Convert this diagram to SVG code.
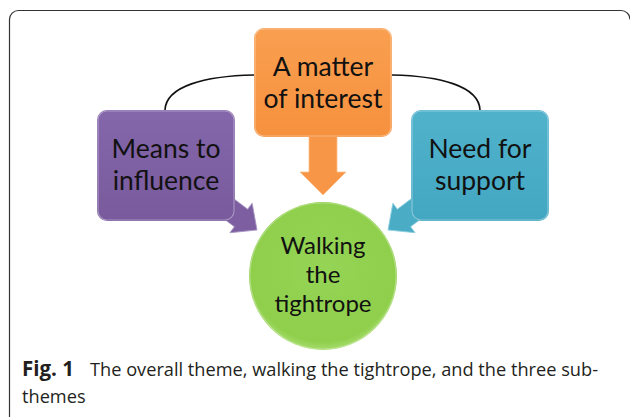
<svg xmlns="http://www.w3.org/2000/svg" width="630" height="417" viewBox="0 0 630 417">
  <defs>
    <style>
      .lbl { font-family: Lato, "Open Sans", "Liberation Sans", sans-serif; fill: #111; text-anchor: middle; }
      .box-t { font-size: 26.5px; }
      .circ-t { font-size: 24px; }
      .cap { font-family: "Open Sans", "Liberation Sans", sans-serif; font-size: 18.2px; fill: #231f20; }
      .link { fill: none; stroke: #111; stroke-width: 1.6; }
      .bevel { fill: none; stroke: #ffffff; stroke-opacity: 0.35; stroke-width: 1.2; }
    </style>
    <linearGradient id="gPurple" x1="0" y1="0" x2="0" y2="1">
      <stop offset="0" stop-color="#8466aa"/>
      <stop offset="1" stop-color="#785a9d"/>
    </linearGradient>
    <linearGradient id="gOrange" x1="0" y1="0" x2="0" y2="1">
      <stop offset="0" stop-color="#f99f50"/>
      <stop offset="1" stop-color="#f6913e"/>
    </linearGradient>
    <linearGradient id="gCyan" x1="0" y1="0" x2="0" y2="1">
      <stop offset="0" stop-color="#50b2cb"/>
      <stop offset="1" stop-color="#44a7c2"/>
    </linearGradient>
    <radialGradient id="gGreen" cx="0.5" cy="0.45" r="0.55">
      <stop offset="0" stop-color="#95d455"/>
      <stop offset="0.9" stop-color="#8fcf4c"/>
      <stop offset="1" stop-color="#a6dc6c"/>
    </radialGradient>
    <!-- block arrow pointing along +x, tip at the origin -->
    <path id="sideArrow" d="M0,0 L-20,-18.5 L-20,-11 L-70,-11 L-70,11 L-20,11 L-20,18.5 Z"/>
  </defs>

  <!-- figure frame, open at the bottom -->
  <path d="M9.5,417 V19.5 A9,9 0 0 1 18.5,10.5 H621 A9,9 0 0 1 630,19.5" fill="none" stroke="#333" stroke-width="1.2"/>

  <g id="connectors">
    <path class="link" d="M165,110 C166,86 205,76 254,75"/>
    <path class="link" d="M392,75 C440,76 479,86 480,110"/>
    <use href="#sideArrow" fill="#7d5fa1" stroke="#a996c4" stroke-width="0.8" transform="translate(257,230) rotate(37)"/>
    <use href="#sideArrow" fill="#4bacc6" stroke="#8fd0e0" stroke-width="0.8" transform="translate(388,230) scale(-1,1) rotate(37)"/>
    <path d="M309,130 H337 V172 H346 L323,195 L300,172 H309 Z" fill="#f79646" stroke="#fbbf8a" stroke-width="0.8"/>
  </g>

  <g id="node-matter">
    <rect x="254" y="28" width="138" height="109" rx="10" fill="url(#gOrange)"/>
    <rect x="255" y="29" width="136" height="107" rx="9" class="bevel"/>
    <text class="lbl box-t" x="323" y="76">A matter</text>
    <text class="lbl box-t" x="323" y="108">of interest</text>
  </g>

  <g id="node-means">
    <rect x="97" y="110" width="138" height="111" rx="10" fill="url(#gPurple)"/>
    <rect x="98" y="111" width="136" height="109" rx="9" class="bevel"/>
    <text class="lbl box-t" x="166" y="158">Means to</text>
    <text class="lbl box-t" x="166" y="190">influence</text>
  </g>

  <g id="node-need">
    <rect x="411" y="110" width="138" height="111" rx="10" fill="url(#gCyan)"/>
    <rect x="412" y="111" width="136" height="109" rx="9" class="bevel"/>
    <text class="lbl box-t" x="480" y="158">Need for</text>
    <text class="lbl box-t" x="480" y="190">support</text>
  </g>

  <g id="node-walking">
    <circle cx="323" cy="276" r="74" fill="url(#gGreen)"/>
    <circle cx="323" cy="276" r="73" fill="none" stroke="#ffffff" stroke-opacity="0.3" stroke-width="1.2"/>
    <text class="lbl circ-t" x="323" y="254">Walking</text>
    <text class="lbl circ-t" x="323" y="283">the</text>
    <text class="lbl circ-t" x="323" y="312">tightrope</text>
  </g>

  <!-- caption -->
  <text class="cap" x="22" y="376"><tspan font-weight="700" font-size="20.5px">Fig. 1</tspan><tspan x="90" textLength="508">The overall theme, walking the tightrope, and the three sub-</tspan></text>
  <text class="cap" x="22" y="403">themes</text>
</svg>
